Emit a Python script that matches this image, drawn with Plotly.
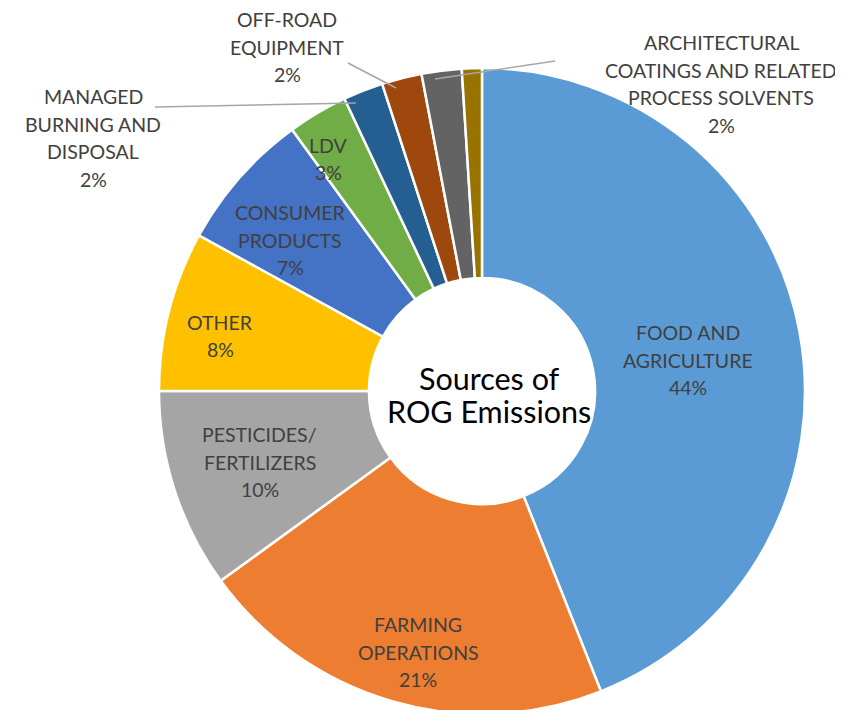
import plotly.graph_objects as go

W, H = 843, 710

categories = ["FOOD AND AGRICULTURE", "FARMING OPERATIONS", "PESTICIDES/ FERTILIZERS",
              "OTHER", "CONSUMER PRODUCTS", "LDV", "MANAGED BURNING AND DISPOSAL",
              "OFF-ROAD EQUIPMENT", "ARCHITECTURAL COATINGS AND RELATED PROCESS SOLVENTS",
              "UNLABELED"]
values = [44, 21, 10, 8, 7, 3, 2, 2, 2, 1]
pct_labels = ["44%", "21%", "10%", "8%", "7%", "3%", "2%", "2%", "2%", ""]
label_lines = [
    ["FOOD AND", "AGRICULTURE"],
    ["FARMING", "OPERATIONS"],
    ["PESTICIDES/", "FERTILIZERS"],
    ["OTHER"],
    ["CONSUMER", "PRODUCTS"],
    ["LDV"],
    ["MANAGED", "BURNING AND", "DISPOSAL"],
    ["OFF-ROAD", "EQUIPMENT"],
    ["ARCHITECTURAL", "COATINGS AND RELATED", "PROCESS SOLVENTS"],
    [],
]
colors = ["#5B9BD5", "#ED7D31", "#A5A5A5", "#FFC000", "#4472C4", "#70AD47",
          "#255E91", "#9E480E", "#636363", "#997300"]
center_title = ["Sources of", "ROG Emissions"]

# layout: label centres (pixels) and leader lines (pixels)
label_pos = [(680, 352), (410, 644), (252, 454), (212, 328), (282, 232), (320, 151),
             (85, 130), (279, 39), (713, 76), None]
leaders = [None, None, None, None, None, None,
           ((147, 99), (348, 95)), ((340, 55), (388, 80)), ((547, 53), (427, 71)), None]
line_gap = 27.5

# domain box (pixels) for the pie
dcx, dcy, r = 474, 383, 323
tcx, tcy, tgap = 481, 386, 33

def px(x):
    return x / W

def py(y):
    return 1 - y / H

fig = go.Figure(go.Pie(
    labels=categories, values=values, sort=False, direction="clockwise", rotation=0,
    hole=0.35, marker=dict(colors=colors, line=dict(color="white", width=2.5)),
    textinfo="none", hoverinfo="label+value", showlegend=False,
    domain=dict(x=[px(dcx - r), px(dcx + r)], y=[py(dcy + r), py(dcy - r)]),
))

annotations = []

def add_block(lines, cxp, cyp, gap, size, color):
    n = len(lines)
    for i, t in enumerate(lines):
        yy = cyp + (i - (n - 1) / 2) * gap
        annotations.append(dict(x=px(cxp), y=py(yy), xref="paper", yref="paper",
                                text=t, showarrow=False, xanchor="center", yanchor="middle",
                                font=dict(family="Lato, sans-serif", size=size, color=color)))

for lines, pct, pos in zip(label_lines, pct_labels, label_pos):
    if pos is None:
        continue
    add_block(lines + [pct], pos[0], pos[1], line_gap, 19.5, "#404040")

add_block(center_title, tcx, tcy, tgap, 30.5, "#000000")

shapes = []
for ld in leaders:
    if ld is None:
        continue
    (x0, y0), (x1, y1) = ld
    shapes.append(dict(type="line", xref="paper", yref="paper",
                       x0=px(x0), y0=py(y0), x1=px(x1), y1=py(y1),
                       line=dict(color="#A6A6A6", width=1.5)))

fig.update_layout(width=W, height=H, margin=dict(l=0, r=0, t=0, b=0),
                  paper_bgcolor="white", plot_bgcolor="white",
                  annotations=annotations, shapes=shapes)

fig.write_html("out.html")
